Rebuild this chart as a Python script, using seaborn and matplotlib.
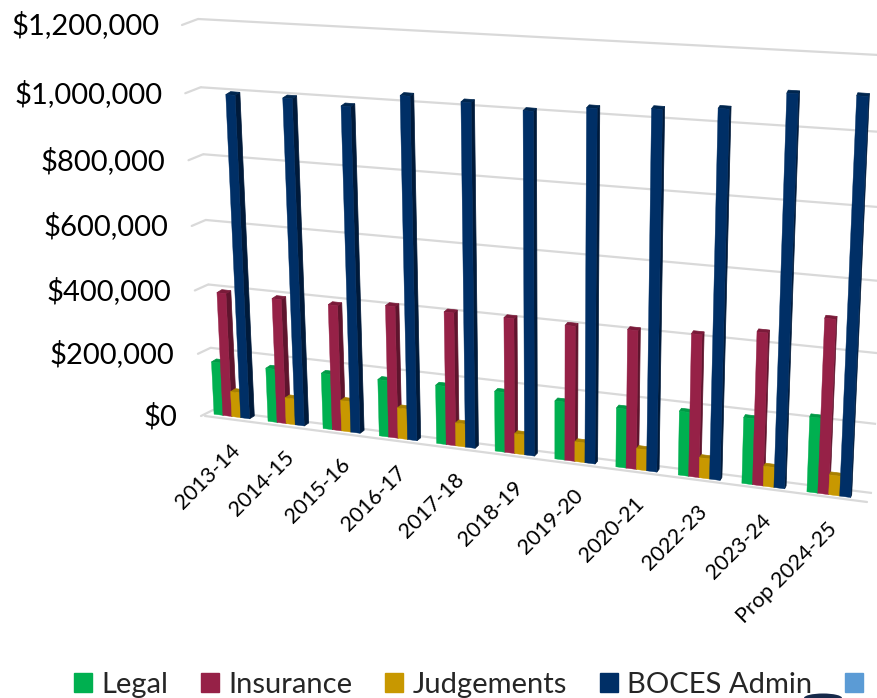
import numpy as np
import pandas as pd
import matplotlib
matplotlib.use('Agg')
import matplotlib.pyplot as plt
import matplotlib.transforms as mtransforms
from matplotlib.patches import Patch, Polygon, Ellipse
import seaborn as sns

# --- Data ---
years = ['2013-14', '2014-15', '2015-16', '2016-17', '2017-18', '2018-19',
         '2019-20', '2020-21', '2022-23', '2023-24', 'Prop 2024-25']
legal = [168000, 169000, 174000, 176000, 180000, 183000, 176000, 177000, 190000, 194000, 219000]
insurance = [390000, 390000, 390000, 406000, 406000, 408000, 405000, 412000, 420000, 445000, 503000]
judgements = [80000, 82000, 96000, 95000, 71000, 61000, 60000, 63000, 60000, 59000, 58000]
boces = [995000, 997000, 986000, 1028000, 1022000, 1010000, 1030000, 1040000, 1053000, 1106000, 1111000]
series_names = ['Legal', 'Insurance', 'Judgements', 'BOCES Admin']
y_ticks = [0, 200000, 400000, 600000, 800000, 1000000, 1200000]
y_labels = ['$0', '$200,000', '$400,000', '$600,000', '$800,000', '$1,000,000', '$1,200,000']

# --- Colours ---
front_colors = ['#00B050', '#962147', '#C89800', '#002F66']
side_colors = ['#007A3A', '#5F142D', '#8A6900', '#001A3A']
top_colors = ['#009A46', '#7A1A39', '#A88000', '#00264F']
extra_color = '#5B9BD5'
grid_color = '#D9D9D9'

W, H = 878, 698
YMAX = 1200000
N = len(years)


class Projection(mtransforms.Transform):
    """Maps (category, value) to display pixels through a homography."""
    input_dims = 2
    output_dims = 2
    is_separable = False
    has_inverse = False

    def __init__(self, bl, br, tl, tr):
        super().__init__()
        src = [(0, 0), (1, 0), (0, 1), (1, 1)]
        dst = [bl, br, tl, tr]
        A, b = [], []
        for (u, v), (x, y) in zip(src, dst):
            A.append([u, v, 1, 0, 0, 0, -u * x, -v * x])
            A.append([0, 0, 0, u, v, 1, -u * y, -v * y])
            b += [x, y]
        self.m = np.append(np.linalg.solve(np.array(A, float), np.array(b, float)), 1).reshape(3, 3)

    def transform_non_affine(self, values):
        values = np.asarray(values, float)
        u = (values[:, 0] + 0.5) / N
        v = values[:, 1] / YMAX
        p = self.m @ np.vstack([u, v, np.ones_like(u)])
        return np.column_stack([p[0] / p[2], H - p[1] / p[2]])


# corners given in image pixels (bottom-left, bottom-right, top-left, top-right)
wall = Projection((213, 410), (872, 493), (198, 19), (898, 56))
floor_front = Projection((205, 416), (867, 502), (190, 25), (893, 65))
bar_front = Projection((205, 413), (862, 499), (185, 22), (882, 63))
bar_back = Projection((210, 410), (863, 496), (190, 19), (883, 60))

df = pd.DataFrame({'year': years * 4,
                   'name': np.repeat(series_names, N),
                   'value': legal + insurance + judgements + boces})

sns.set_theme(style='white')
plt.rcParams['font.family'] = ['Lato', 'DejaVu Sans']

fig = plt.figure(figsize=(W / 100, H / 100), dpi=100)
ax = fig.add_axes([0, 0, 1, 1])
sns.barplot(data=df, x='year', y='value', hue='name', hue_order=series_names,
            palette=front_colors, width=0.66, gap=0, saturation=1, legend=False,
            linewidth=0, ax=ax)
ax.set_xlim(-0.5, N - 0.5)
ax.set_ylim(0, YMAX)
ax.axis('off')

# --- Gridlines on the back wall, stubs on the side wall, front floor edge ---
display = mtransforms.IdentityTransform()
for val in y_ticks:
    ax.plot([-0.5, N - 0.5], [val, val], color=grid_color, lw=1.6, transform=wall,
            solid_capstyle='butt', zorder=1, scalex=False, scaley=False)
    a = wall.transform_non_affine([[-0.5, val]])[0]
    b = floor_front.transform_non_affine([[-0.5, val]])[0] - np.array([4 * (1 - val / YMAX) + 8 * val / YMAX, 0])
    ax.plot([a[0], b[0]], [a[1], b[1]], color=grid_color, lw=1.6, transform=display,
            zorder=1, scalex=False, scaley=False)
ax.plot([-0.5, N - 0.5], [0, 0], color=grid_color, lw=1.6, transform=floor_front,
        zorder=1, scalex=False, scaley=False)

# --- Turn seaborn's flat bars into 3D ones ---
for k, container in enumerate(ax.containers):
    for rect in container:
        x0, x1 = rect.get_x(), rect.get_x() + rect.get_width()
        top = rect.get_height()
        rect.set_transform(bar_front)
        rect.set_zorder(3 + k + 0.2)
        rect.set_edgecolor(front_colors[k])
        rect.set_linewidth(0.3)
        side = np.vstack([bar_front.transform_non_affine([[x1, 0], [x1, top]]),
                          bar_back.transform_non_affine([[x1, top], [x1, 0]])])
        cap = np.vstack([bar_front.transform_non_affine([[x0, top], [x1, top]]),
                         bar_back.transform_non_affine([[x1, top], [x0, top]])])
        ax.add_patch(Polygon(side, closed=True, fc=side_colors[k], ec=side_colors[k], lw=0.5,
                             transform=display, zorder=3 + k))
        ax.add_patch(Polygon(cap, closed=True, fc=top_colors[k], ec=top_colors[k], lw=0.5,
                             transform=display, zorder=3 + k + 0.1))

# --- Value axis labels ---
for val, label in zip(y_ticks, y_labels):
    px = floor_front.transform_non_affine([[-0.5, val]])[0]
    ax.text(px[0] - 27.5 - 3 * val / YMAX, px[1] - 0.5, label, transform=display,
            ha='right', va='center', fontsize=21, color='black')

# --- Category labels ---
for i, label in enumerate(years):
    px = bar_front.transform_non_affine([[i, 0]])[0]
    ax.text(px[0] - 2, px[1] - 24, label, transform=display, ha='right', va='top',
            rotation=45, rotation_mode='anchor', fontsize=15.5, color='black')

# --- Legend ---
handles = [Patch(color=c) for c in front_colors] + [Patch(color=extra_color)]
ax.legend(handles, series_names + [''], ncols=5, loc='lower left',
          bbox_to_anchor=(74, 0), bbox_transform=display, frameon=False,
          fontsize=21, handlelength=0.62, handleheight=0.62, handletextpad=0.31,
          columnspacing=1.13, borderpad=0, borderaxespad=0)

# dark shape cut off by the lower edge of the picture
ax.add_patch(Ellipse((823, 0), 38, 9, fc='#16294A', ec='none', transform=display, zorder=2))

fig.savefig('out.png', dpi=100)
